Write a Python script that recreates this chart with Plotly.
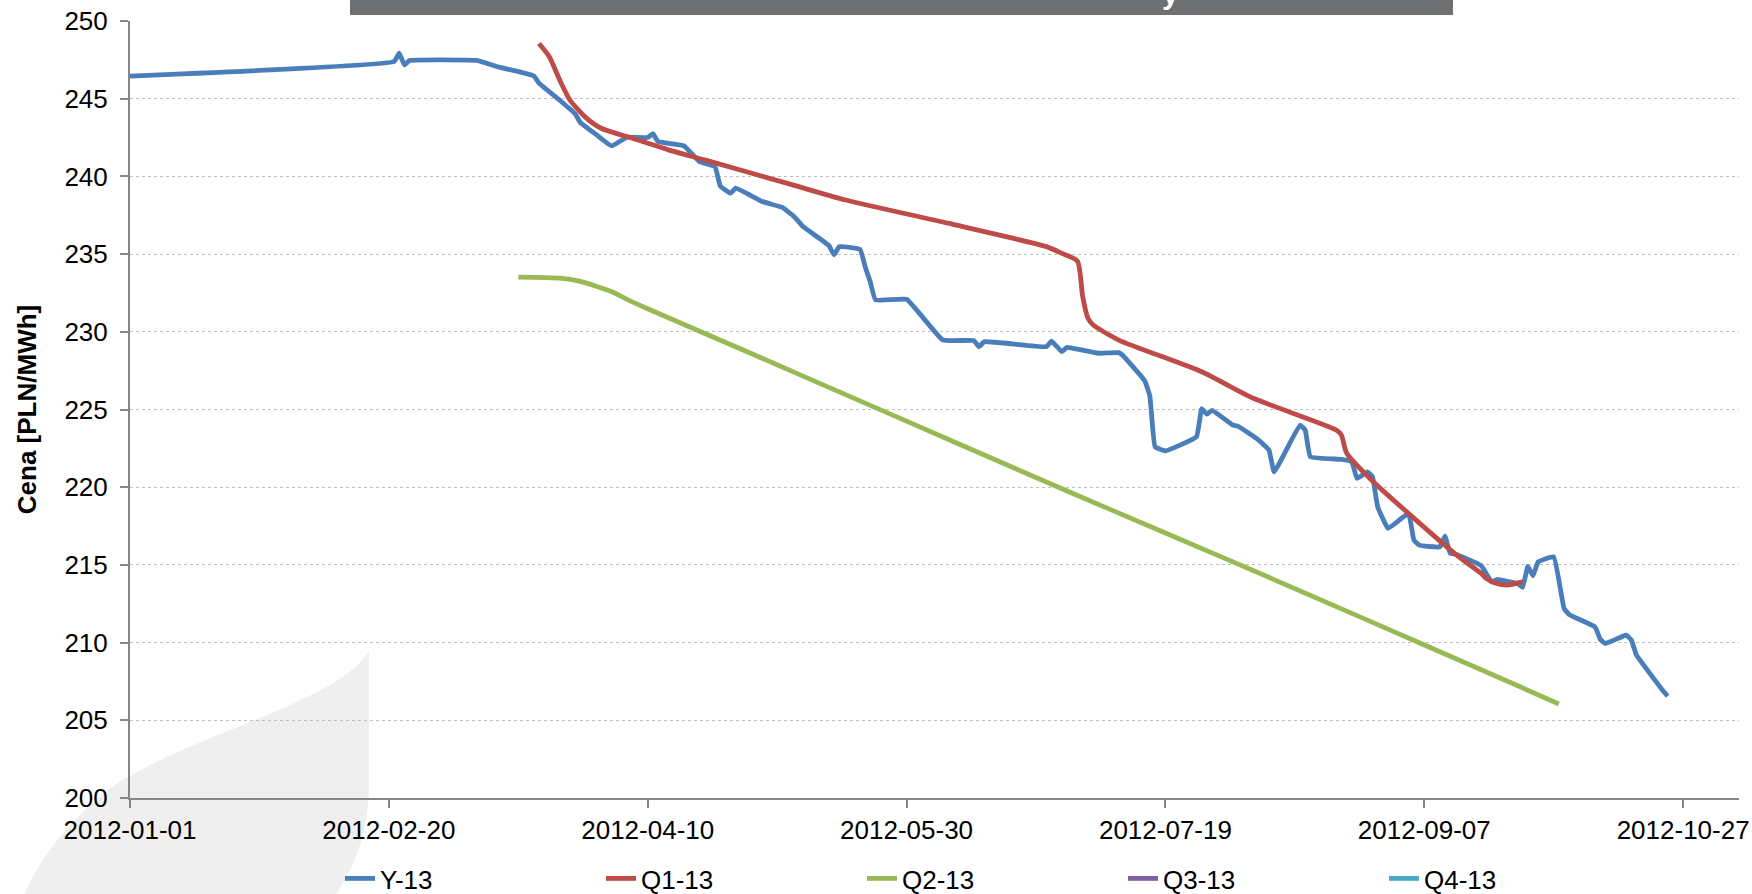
import plotly.graph_objects as go

# ---------------- data ----------------
y13_dates = ["2012-01-01", "2012-02-21", "2012-02-22", "2012-02-23", "2012-02-24", "2012-03-01",
             "2012-03-08", "2012-03-12", "2012-03-16", "2012-03-19", "2012-03-20", "2012-03-24",
             "2012-03-27", "2012-03-28", "2012-03-31", "2012-04-03", "2012-04-06", "2012-04-10",
             "2012-04-11", "2012-04-12", "2012-04-17", "2012-04-20", "2012-04-23", "2012-04-24",
             "2012-04-26", "2012-04-27", "2012-05-02", "2012-05-06", "2012-05-08", "2012-05-09",
             "2012-05-10", "2012-05-15", "2012-05-16", "2012-05-17", "2012-05-21", "2012-05-22",
             "2012-05-23", "2012-05-24", "2012-05-30", "2012-06-06", "2012-06-12", "2012-06-13",
             "2012-06-14", "2012-06-26", "2012-06-27", "2012-06-29", "2012-06-30", "2012-07-06",
             "2012-07-10", "2012-07-11", "2012-07-15", "2012-07-16", "2012-07-17", "2012-07-19",
             "2012-07-25", "2012-07-26", "2012-07-27", "2012-07-28", "2012-08-01", "2012-08-02",
             "2012-08-06", "2012-08-08", "2012-08-09", "2012-08-14", "2012-08-15", "2012-08-16",
             "2012-08-22", "2012-08-24", "2012-08-25", "2012-08-27", "2012-08-28", "2012-08-29",
             "2012-08-31", "2012-09-03", "2012-09-04", "2012-09-05", "2012-09-06", "2012-09-10",
             "2012-09-11", "2012-09-12", "2012-09-13", "2012-09-18", "2012-09-20", "2012-09-21",
             "2012-09-25", "2012-09-26", "2012-09-27", "2012-09-28", "2012-09-29", "2012-10-02",
             "2012-10-04", "2012-10-05", "2012-10-10", "2012-10-11", "2012-10-12", "2012-10-16",
             "2012-10-17", "2012-10-18", "2012-10-23", "2012-10-24"]
y13_values = [246.45, 247.39, 247.93, 247.18, 247.46, 247.50,
              247.46, 247.05, 246.75, 246.47, 246.00, 244.90,
              244.02, 243.46, 242.70, 241.96, 242.52, 242.50,
              242.75, 242.24, 241.96, 240.95, 240.63, 239.39,
              238.92, 239.24, 238.40, 238.00, 237.50, 237.15,
              236.77, 235.55, 234.95, 235.48, 235.31, 234.19,
              233.20, 232.05, 232.09, 229.47, 229.43, 229.04,
              229.36, 229.04, 229.40, 228.72, 229.00, 228.62,
              228.66, 228.40, 226.85, 225.85, 222.60, 222.34,
              223.25, 225.05, 224.70, 224.95, 224.00, 223.93,
              223.03, 222.39, 220.99, 224.00, 223.68, 221.96,
              221.79, 221.64, 220.57, 220.99, 220.67, 218.74,
              217.35, 218.10, 218.31, 216.59, 216.27, 216.16,
              216.85, 215.74, 215.70, 214.95, 213.91, 214.06,
              213.80, 213.55, 214.90, 214.30, 215.20, 215.52,
              212.20, 211.80, 211.00, 210.20, 209.94, 210.48,
              210.16, 209.19, 206.95, 206.55]

q1_dates = ["2012-03-20", "2012-03-22", "2012-03-24", "2012-03-26", "2012-03-29", "2012-04-01",
            "2012-04-07", "2012-04-14", "2012-04-21", "2012-05-07", "2012-05-18", "2012-06-07",
            "2012-06-26", "2012-06-29", "2012-07-02", "2012-07-03", "2012-07-04", "2012-07-05",
            "2012-07-10", "2012-07-26", "2012-08-05", "2012-08-21", "2012-08-22", "2012-08-23",
            "2012-08-28", "2012-09-13", "2012-09-18", "2012-09-19", "2012-09-21", "2012-09-23",
            "2012-09-26"]
q1_values = [248.55, 247.70, 246.20, 244.90, 243.80, 243.10,
             242.46, 241.71, 241.06, 239.55, 238.50, 236.99,
             235.48, 235.05, 234.55, 232.30, 230.90, 230.45,
             229.47, 227.43, 225.72, 223.68, 223.35, 222.20,
             220.40, 215.70, 214.45, 214.13, 213.80, 213.70,
             213.91]

q2_dates = ["2012-03-16", "2012-03-24", "2012-03-28", "2012-04-03", "2012-04-06", "2012-04-10",
            "2012-04-30", "2012-05-20", "2012-06-09", "2012-06-29", "2012-07-19", "2012-08-08",
            "2012-08-28", "2012-09-17", "2012-10-03"]
q2_values = [233.52, 233.45, 233.24, 232.59, 232.09, 231.48,
             228.60, 225.70, 222.80, 219.90, 217.05, 214.20,
             211.30, 208.40, 206.05]

q3_dates = []
q3_values = []
q4_dates = []
q4_values = []

series_names = ["Y-13", "Q1-13", "Q2-13", "Q3-13", "Q4-13"]
series_colors = ["#4A7EBB", "#BE4B48", "#98B954", "#7D60A0", "#46AAC5"]

x_ticks_start = "2012-01-01"
y_title = "Cena [PLN/MWh]"

# ---------------- layout geometry (pixels) ----------------
W, H = 1752, 894
L, R, T, B = 130, 13, 21, 96
PW, PH = W - L - R, H - T - B


def px_x(x):
    return (x - L) / PW


def px_y(y):
    return (H - B - y) / PH


FONT = "Liberation Sans, Arial, sans-serif"

fig = go.Figure()

all_series = [
    (y13_dates, y13_values, "spline", 0.3),
    (q1_dates, q1_values, "spline", 0.6),
    (q2_dates, q2_values, "spline", 0.6),
    (q3_dates, q3_values, "linear", 0),
    (q4_dates, q4_values, "linear", 0),
]
for (xs, ys, shp, sm), name, col in zip(all_series, series_names, series_colors):
    fig.add_trace(go.Scatter(
        x=xs if xs else [None], y=ys if ys else [None], name=name, mode="lines",
        line=dict(color=col, width=4.8, shape=shp, smoothing=sm),
        hoverinfo="x+y+name",
    ))

shapes = [
    # light grey swoosh watermark (lower left)
    dict(type="path", xref="paper", yref="paper", layer="below",
         path=("M {a},{b} C {c},{d} {e},{f} {g},{h} C {i},{j} {k},{l} {m},{n} "
               "L {o},{p} C {q},{r} {s},{t} {u},{v} Z").format(
             a=px_x(369), b=px_y(650),
             c=px_x(345), d=px_y(700), e=px_x(190), f=px_y(735), g=px_x(115), h=px_y(785),
             i=px_x(70), j=px_y(818), k=px_x(38), l=px_y(860), m=px_x(22), n=px_y(900),
             o=px_x(332), p=px_y(900),
             q=px_x(362), r=px_y(858), s=px_x(369), t=px_y(820), u=px_x(369), v=px_y(780)),
         fillcolor="#EFEFEF", line=dict(width=0)),
    # dark title bar at the top (mostly cut off)
    dict(type="rect", xref="paper", yref="paper", layer="above",
         x0=px_x(350), x1=px_x(1453), y0=px_y(-5), y1=px_y(15),
         fillcolor="#6F7072", line=dict(width=0)),
]

fig.update_layout(
    width=W, height=H,
    margin=dict(l=L, r=R, t=T, b=B, autoexpand=False),
    paper_bgcolor="white", plot_bgcolor="rgba(0,0,0,0)",
    font=dict(family=FONT, size=26, color="#000000"),
    showlegend=True,
    legend=dict(orientation="h", x=px_x(340), xanchor="left", y=px_y(855), yanchor="top",
                font=dict(size=26, family=FONT), entrywidth=216, entrywidthmode="pixels",
                bgcolor="rgba(0,0,0,0)", traceorder="normal"),
    shapes=shapes,
    annotations=[
        dict(text="y", xref="paper", yref="paper", x=px_x(1170), y=px_y(12),
             xanchor="center", yanchor="bottom", showarrow=False,
             font=dict(size=30, color="white", family=FONT, weight="bold")),
    ],
)

fig.update_xaxes(
    type="date", range=["2012-01-01", "2012-11-06 19:00"],
    tick0=x_ticks_start, dtick=50 * 86400000, tickformat="%Y-%m-%d",
    showgrid=False, zeroline=False,
    showline=True, linecolor="#868686", linewidth=2,
    ticks="outside", ticklen=8, tickwidth=1.5, tickcolor="#868686",
    tickfont=dict(size=26, family=FONT, color="#000000"),
    ticklabelstandoff=0,
)
fig.update_yaxes(
    range=[200, 250], dtick=5, tick0=200,
    showgrid=True, gridcolor="#BEBEBE", griddash="dot", gridwidth=1.2,
    zeroline=False,
    showline=True, linecolor="#868686", linewidth=2,
    ticks="outside", ticklen=8, tickwidth=1.5, tickcolor="#868686",
    tickfont=dict(size=26, family=FONT, color="#000000"),
    ticklabelstandoff=7,
    title=dict(text="<b>" + y_title + "</b>", font=dict(size=26, family=FONT), standoff=20),
)

fig.write_html("out.html", config={"displayModeBar": False},
               post_script="document.body.style.margin='0';document.body.style.overflow='hidden';")
